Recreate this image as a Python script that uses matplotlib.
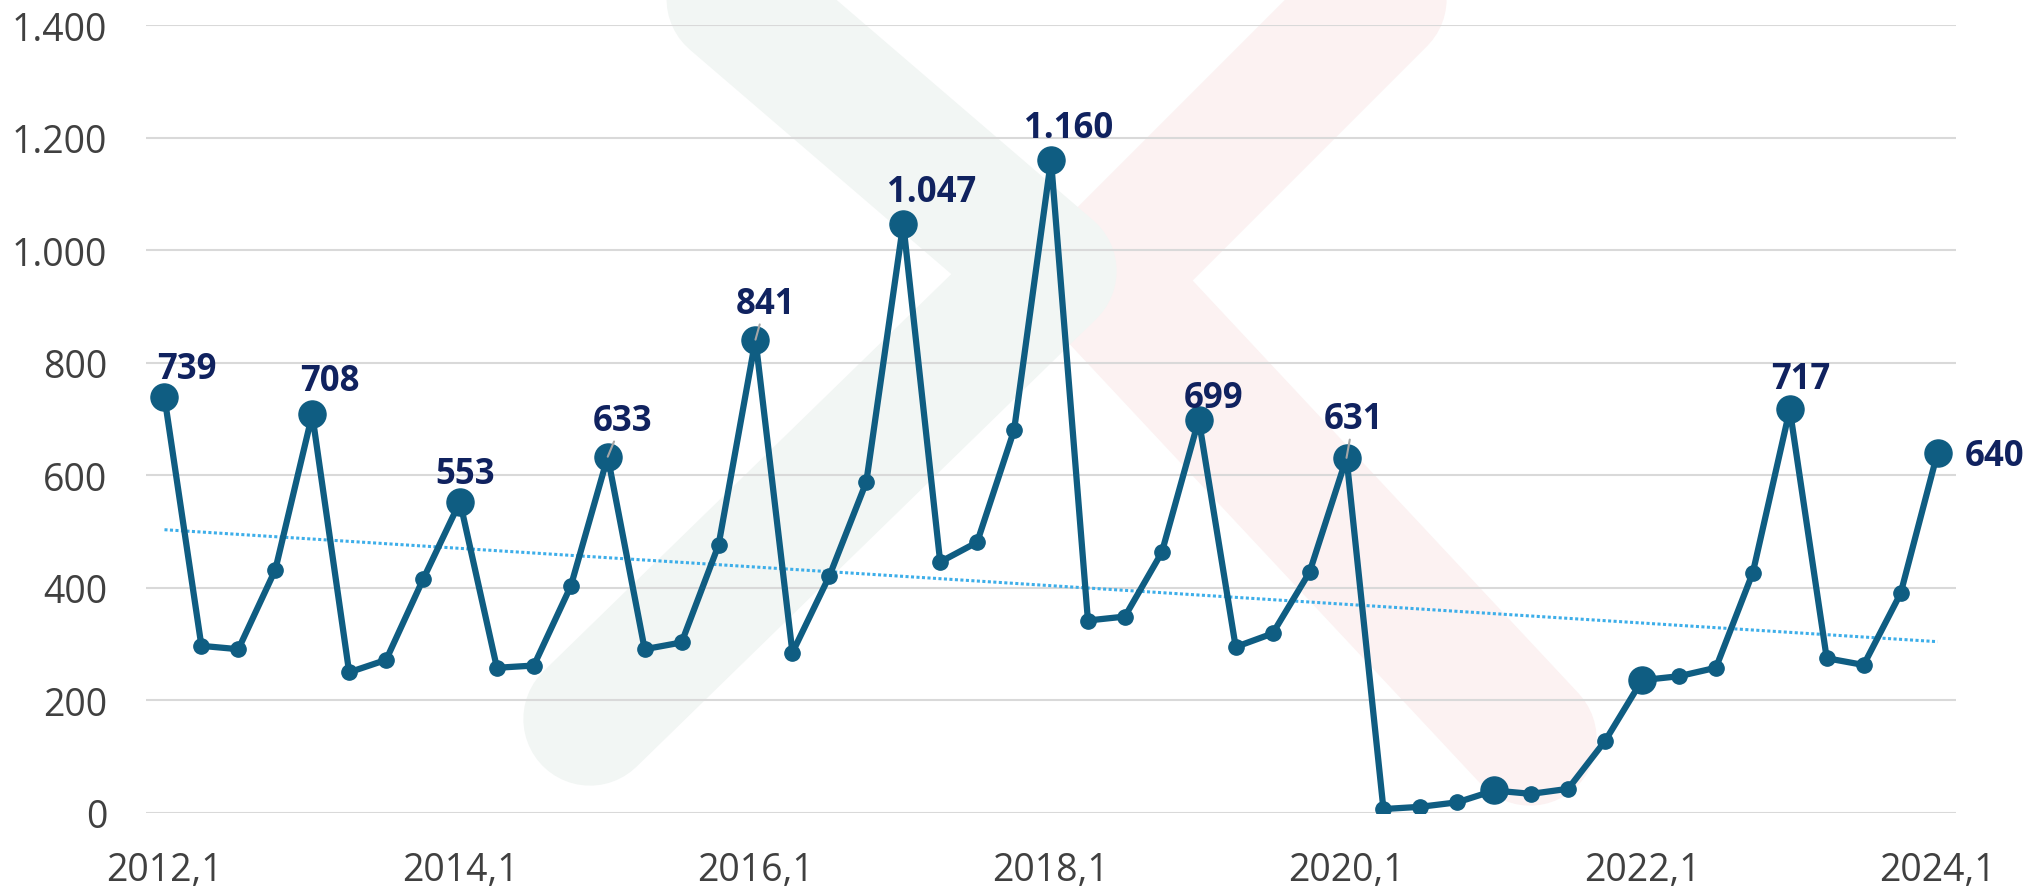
import numpy as np
import matplotlib
matplotlib.use('Agg')
import matplotlib.pyplot as plt
from matplotlib.lines import Line2D
from matplotlib.ticker import FixedLocator, FuncFormatter

plt.rcParams['font.family'] = 'Open Sans'

# quarterly values, 2012,1 .. 2024,1
years = list(range(2012, 2025))
categories = ['{},{}'.format(y, q) for y in years for q in (1, 2, 3, 4)][:49]
values = [739, 297, 291, 432,
          708, 250, 272, 415,
          553, 258, 262, 403,
          633, 291, 303, 476,
          841, 285, 421, 588,
          1047, 446, 481, 680,
          1160, 342, 349, 463,
          699, 295, 319, 428,
          631, 7, 11, 19,
          40, 34, 43, 128,
          236, 243, 258, 427,
          717, 275, 263, 390,
          640]

big_idx = list(range(0, 49, 4))
label_idx = [0, 4, 8, 12, 16, 20, 24, 28, 32, 44]
leader_idx = [12, 16, 32]
# label offsets from the point, in pixels (x right, y up)
label_dx = [22, 18, 5, 15, 10, 28, 18, 15, 7, 11]
label_dy = [19, 24, 19, 27, 27, 23, 23, 13, 30, 21]

yticks = [0, 200, 400, 600, 800, 1000, 1200, 1400]
xtick_idx = list(range(0, 49, 8))

line_color = '#0F5D82'
label_color = '#10225F'
tick_color = '#404040'

W, H = 2036, 887
fig = plt.figure(figsize=(W / 100, H / 100), dpi=100)
ax = fig.add_axes([146 / W, 1 - 814 / H, (1956 - 146) / W, (814 - 26) / H])
ax.set_facecolor('none')


def fig_xy(pts):
    return [p[0] / W for p in pts], [1 - p[1] / H for p in pts]


# faint logo watermark behind the chart
red_logo = [(1420, -40), (1100, 280), (1530, 740)]
green_logo = [(640, -80), (1050, 272), (590, 720)]
for pts, col in ((red_logo, '#FCF2F2'), (green_logo, '#F2F6F4')):
    xs, ys = fig_xy(pts)
    fig.add_artist(Line2D(xs, ys, transform=fig.transFigure, lw=96, color=col,
                          solid_capstyle='round', solid_joinstyle='round', zorder=-2))

x = np.arange(len(values))
y = np.array(values, dtype=float)

coef = np.polyfit(x, y, 1)
ax.plot(x, np.polyval(coef, x), color='#3DAEE9', lw=2.2, ls=(0, (1, 0.8)), zorder=2)

ax.plot(x, y, color=line_color, lw=4.5, marker='o', ms=11, zorder=3)
ax.plot(x[big_idx], y[big_idx], 'o', ms=19.5, color=line_color, zorder=4)


def fmt(v):
    return '{:,}'.format(int(v)).replace(',', '.')


for i, dx, dy in zip(label_idx, label_dx, label_dy):
    arrow = None
    if i in leader_idx:
        arrow = dict(arrowstyle='-', color='#A6A6A6', lw=1.5, shrinkA=0, shrinkB=0)
    ax.annotate(fmt(values[i]), (i, values[i]), xytext=(dx * 0.72, dy * 0.72),
                textcoords='offset points', ha='center', va='baseline',
                fontsize=25, fontweight='bold', color=label_color,
                arrowprops=arrow, zorder=5)

# last point label sits to the right
ax.annotate(fmt(values[-1]), (48, values[-1]), xytext=(27 * 0.72, -12.5 * 0.72),
            textcoords='offset points', ha='left', va='baseline',
            fontsize=25, fontweight='bold', color=label_color, zorder=5,
            annotation_clip=False)

ax.set_xlim(-0.5, 48.5)
ax.set_ylim(0, 1400)
ax.yaxis.set_major_locator(FixedLocator(yticks))
ax.yaxis.set_major_formatter(FuncFormatter(lambda v, p: fmt(v)))
ax.set_xticks(xtick_idx)
ax.set_xticklabels([categories[i] for i in xtick_idx])
ax.yaxis.grid(True, color='#D9D9D9', lw=1.5)
ax.set_axisbelow(True)
for s in ax.spines.values():
    s.set_visible(False)
ax.tick_params(axis='both', length=0, labelsize=27, labelcolor=tick_color)
ax.tick_params(axis='y', pad=28)
ax.tick_params(axis='x', pad=27)

fig.savefig('out.png', dpi=100, facecolor='white')
